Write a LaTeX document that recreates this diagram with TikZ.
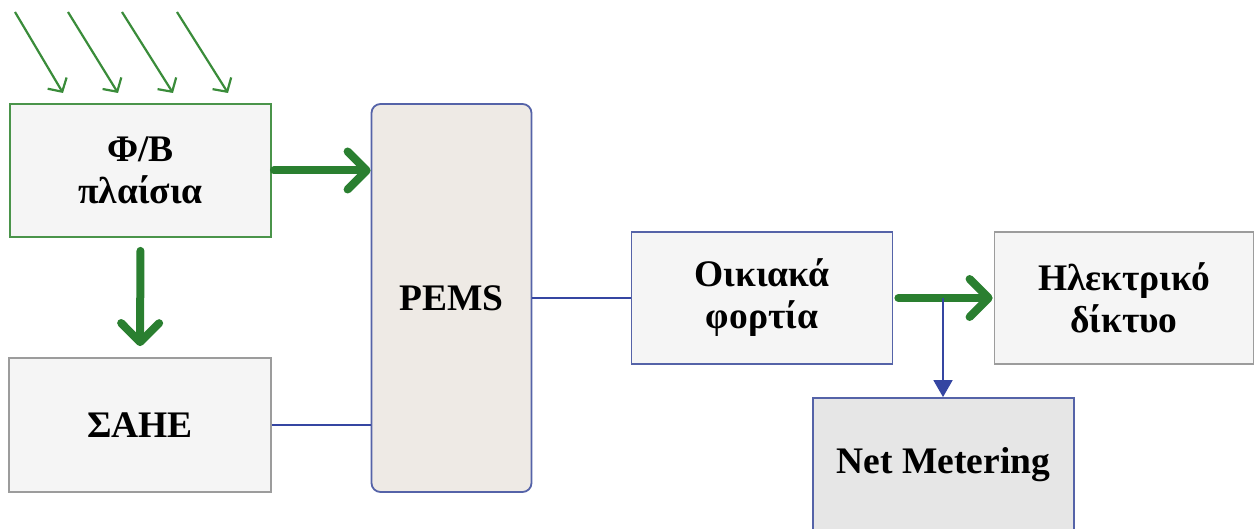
\documentclass[tikz,border=0pt]{standalone}
\usepackage{fontspec}
\setmainfont{Liberation Serif}
\usetikzlibrary{arrows.meta}
\definecolor{gfill}{HTML}{F5F5F5}
\definecolor{pemsfill}{HTML}{EEEAE5}
\definecolor{netfill}{HTML}{E6E6E6}
\definecolor{pvborder}{HTML}{4A944A}
\definecolor{grayborder}{HTML}{9C9C9C}
\definecolor{blueborder}{HTML}{5563A8}
\definecolor{garrowc}{HTML}{2A7F30}
\definecolor{raygreen}{HTML}{3A8C3A}
\definecolor{bluelink}{HTML}{3546A2}
\tikzset{
  box/.style={draw, line width=1.8pt, fill=gfill, align=center,
    font=\fontsize{37.5}{42}\selectfont\bfseries, inner sep=0pt},
  bigarrow/.style={draw=garrowc, line width=8pt, line cap=round,
    -{Straight Barb[round, length=19pt, width=38pt, line width=8pt]}},
  ray/.style={draw=raygreen, line width=2.2pt,
    -{Straight Barb[length=10pt, width=22pt, line width=2.2pt]}},
  link/.style={draw=bluelink, line width=2.2pt},
  linkarrow/.style={draw=bluelink, line width=1.8pt,
    -{Triangle[length=17pt, width=19pt]}}
}
\begin{document}
\begin{tikzpicture}[x=1pt, y=-1pt]
\useasboundingbox (0,0) rectangle (1255,529);
\clip (0,0) rectangle (1255,529);
% boxes
\node[box, draw=pvborder, minimum width=261pt, minimum height=133pt] (pv) at (140.5,170.5) {Φ/Β\\πλαίσια};
\node[box, draw=grayborder, minimum width=262pt, minimum height=134pt] (sahe) at (140,425) {ΣΑΗΕ};
\node[box, draw=blueborder, fill=pemsfill, rounded corners=9pt, minimum width=160pt, minimum height=388pt] (pems) at (451.5,298) {PEMS};
\node[box, draw=blueborder, minimum width=261pt, minimum height=132pt] (oik) at (762,298) {Οικιακά\\φορτία};
\node[box, draw=grayborder, minimum width=259pt, minimum height=132pt] (grid) at (1124,298) {Ηλεκτρικό\\δίκτυο};
\node[box, draw=blueborder, fill=netfill, minimum width=261pt, minimum height=142pt] (net) at (943.5,469) {\raisebox{18pt}{Net Metering}};
% rays
\foreach \i/\sx/\ex in {1/15/63, 2/68/118, 3/122/173, 4/177/228}{
  \coordinate (rs\i) at (\sx,12);
  \coordinate (re\i) at (\ex,93);
  \draw[ray] (rs\i) -- (re\i);
}
% green arrows
\draw[bigarrow, shorten <=2pt, shorten >=0pt] (pv.east) -- (pems.west |- pv.east);
\draw[bigarrow, shorten <=13pt, shorten >=11pt] (pv.south) -- (sahe.north);
\draw[bigarrow, shorten <=5pt, shorten >=1pt] (oik.east) -- (grid.west);
% blue links
\draw[link] (sahe.east) -- (sahe.east -| pems.west);
\draw[link] (pems.east |- oik.west) -- (oik.west);
\coordinate (br) at (943,298);
\draw[linkarrow] (br) -- (br |- net.north);
\end{tikzpicture}
\end{document}
